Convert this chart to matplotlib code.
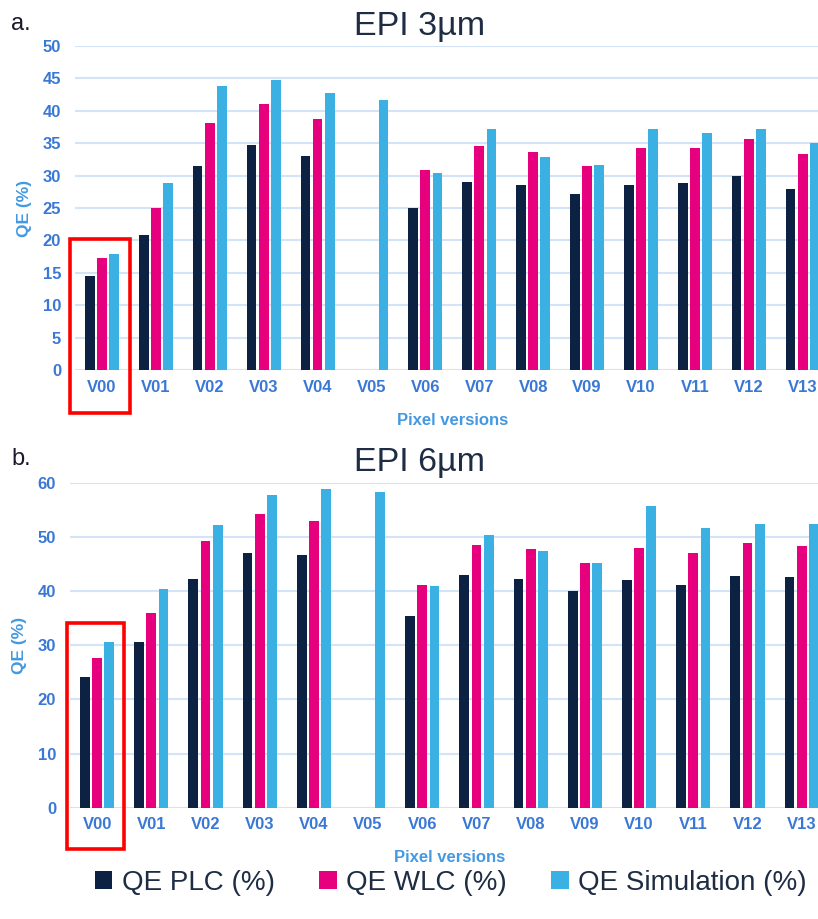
import numpy as np
import matplotlib
matplotlib.use("Agg")
import matplotlib.pyplot as plt
from matplotlib.patches import Rectangle, Patch

plt.rcParams['font.family'] = ['Liberation Sans', 'DejaVu Sans']

categories = ["V00", "V01", "V02", "V03", "V04", "V05", "V06",
              "V07", "V08", "V09", "V10", "V11", "V12", "V13"]

# EPI 3um
plc_3 = [14.5, 20.9, 31.5, 34.7, 33.1, np.nan, 25.0, 29.0, 28.5, 27.2, 28.5, 28.8, 29.9, 28.0]
wlc_3 = [17.3, 25.0, 38.1, 41.1, 38.8, np.nan, 30.8, 34.5, 33.6, 31.5, 34.3, 34.3, 35.6, 33.4]
sim_3 = [17.9, 28.8, 43.9, 44.8, 42.7, 41.6, 30.4, 37.2, 32.9, 31.7, 37.2, 36.5, 37.2, 35.0]

# EPI 6um
plc_6 = [24.2, 30.5, 42.3, 47.1, 46.6, np.nan, 35.4, 43.0, 42.2, 40.0, 42.0, 41.2, 42.8, 42.5]
wlc_6 = [27.7, 36.0, 49.2, 54.3, 53.0, np.nan, 41.2, 48.5, 47.7, 45.2, 48.0, 47.1, 48.8, 48.3]
sim_6 = [30.5, 40.4, 52.1, 57.8, 58.9, 58.3, 40.9, 50.4, 47.4, 45.2, 55.7, 51.6, 52.4, 52.4]

series_names = ["QE PLC (%)", "QE WLC (%)", "QE Simulation (%)"]
colors = ["#0d2142", "#e6007e", "#3bb0e3"]

tick_color = "#3a78d6"
label_color = "#4499e0"
grid_color = "#d3e3f8"
dark = "#1f2d44"

W, H = 818, 919
fig = plt.figure(figsize=(W / 100, H / 100), dpi=100)


def px_axes(left, top, right, bottom):
    return fig.add_axes([left / W, 1 - bottom / H, (right - left) / W, (bottom - top) / H])


def draw(ax, data, ymax, ystep, rect):
    x = np.arange(len(categories))
    off = 0.225
    bw = 0.18
    for i, (vals, c) in enumerate(zip(data, colors)):
        ax.bar(x + (i - 1) * off, vals, width=bw, color=c, zorder=3)
    ax.set_xlim(-0.5, len(categories) - 0.5)
    ax.set_ylim(0, ymax)
    ax.set_yticks(np.arange(0, ymax + 1, ystep))
    ax.set_xticks(x)
    ax.set_xticklabels(categories)
    for s in ax.spines.values():
        s.set_visible(False)
    ax.grid(axis='y', color=grid_color, linewidth=1.5, zorder=0)
    ax.set_axisbelow(True)
    ax.tick_params(axis='both', length=0, labelsize=12, labelcolor=tick_color)
    ax.tick_params(axis='y', pad=10)
    ax.tick_params(axis='x', pad=7)
    for t in ax.get_xticklabels() + ax.get_yticklabels():
        t.set_fontweight('bold')
    ax.set_xlabel("Pixel versions", fontsize=12, fontweight='bold', color=label_color, labelpad=13)
    ax.set_ylabel("QE (%)", fontsize=12.5, fontweight='bold', color=label_color, labelpad=8)
    x0, x1, y0, y1 = rect
    ax.add_patch(Rectangle((x0, y0), x1 - x0, y1 - y0, fill=False, edgecolor='#ff0000',
                           linewidth=2.6, clip_on=False, zorder=5))


ax1 = px_axes(75, 46, 75 + 14 * 53.9, 370)
draw(ax1, [plc_3, wlc_3, sim_3], 50, 5, (-0.59, 0.52, -6.6, 20.2))

ax2 = px_axes(70, 482.7, 70 + 14 * 54.2, 807.7)
draw(ax2, [plc_6, wlc_6, sim_6], 60, 10, (-0.55, 0.50, -7.6, 34.1))

fig.text(420 / W, 1 - 26 / H, "EPI 3µm", ha='center', va='center', fontsize=24.5, color=dark)
fig.text(420 / W, 1 - 463 / H, "EPI 6µm", ha='center', va='center', fontsize=24.5, color=dark)
fig.text(11 / W, 1 - 24 / H, "a.", ha='left', va='center', fontsize=17, color='#1a1a2a')
fig.text(11 / W, 1 - 459 / H, "b.", ha='left', va='center', fontsize=17, color='#1a1a2a')

handles = [Patch(facecolor=c, edgecolor='none') for c in colors]
fig.legend(handles, series_names, loc='center', bbox_to_anchor=(451 / W, 1 - 883 / H),
           ncol=3, frameon=False, fontsize=20, handlelength=0.62, handleheight=0.62,
           handletextpad=0.35, columnspacing=1.6, labelcolor=dark)

fig.savefig("out.png", dpi=100)
